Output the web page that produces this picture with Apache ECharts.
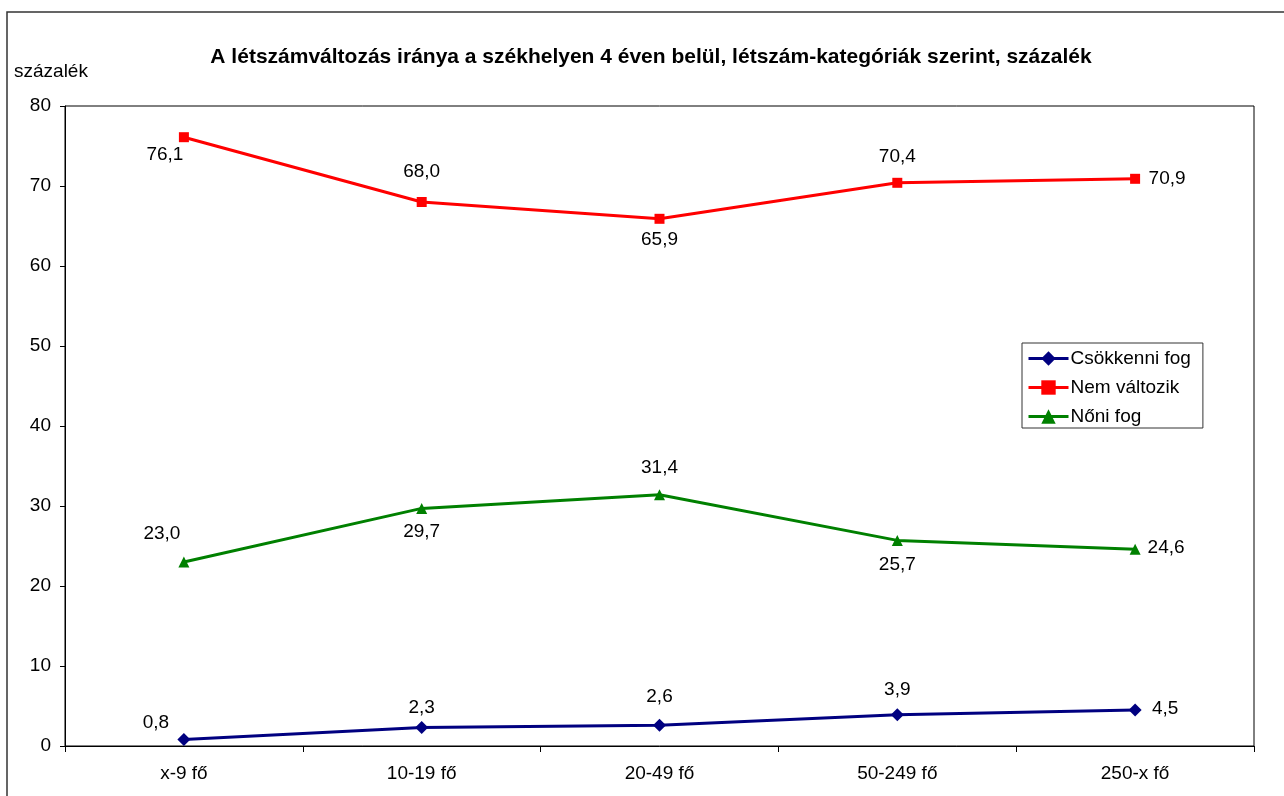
<!DOCTYPE html>
<html>
<head>
<meta charset="utf-8">
<script src="https://cdn.jsdelivr.net/npm/echarts@6/dist/echarts.min.js"></script>
<style>
  html, body { margin: 0; padding: 0; background: #fff; }
  #chart { width: 1284px; height: 796px; }
</style>
</head>
<body>
<div id="chart"></div>
<script>
const categories = ['x-9 fő', '10-19 fő', '20-49 fő', '50-249 fő', '250-x fő']
const csokkenni = [0.8, 2.3, 2.6, 3.9, 4.5]
const nemValtozik = [76.1, 68.0, 65.9, 70.4, 70.9]
const noni = [23.0, 29.7, 31.4, 25.7, 24.6]

// label shifts from the point, as in the original chart
const blueOffsets = [[-28, -17], [0, -20], [0, -28], [0, -25], [30, -1]]
const redOffsets = [[-19, 18], [0, -30], [0, 21], [0, -26], [32, 0]]
const greenOffsets = [[-22, -28], [0, 23], [0, -27], [0, 24], [31, -1]]

const font = 'Liberation Sans, Arial, sans-serif'

const makeData = (vals, offsets) => vals.map((v, i) => ({
  value: v,
  label: { show: true, position: 'inside', offset: offsets[i] }
}))

const fmt = p => p.value.toFixed(1).replace('.', ',')

const chart = echarts.init(document.getElementById('chart'))

const baseSeries = {
  type: 'line',
  smooth: false,
  lineStyle: { width: 3 },
  label: { color: '#000', fontSize: 19, fontFamily: font, formatter: fmt },
  emphasis: { disabled: true },
  z: 3
}

chart.setOption({
  animation: false,
  textStyle: { fontFamily: font },
  title: {
    text: 'A létszámváltozás iránya a székhelyen 4 éven belül, létszám-kategóriák szerint, százalék',
    left: 646,
    textAlign: 'center',
    top: 42,
    textStyle: { fontSize: 21, fontWeight: 'bold', color: '#000', fontFamily: font }
  },
  graphic: [
    {
      type: 'rect',
      shape: { x: 7, y: 12, width: 1300, height: 800 },
      style: { fill: 'none', stroke: '#333', lineWidth: 1.5 }
    },
    {
      type: 'text',
      left: 14,
      top: 62,
      style: { text: 'százalék', fontSize: 19, fontFamily: font, fill: '#000' }
    }
  ],
  legend: {
    orient: 'vertical',
    left: 1022,
    top: 343,
    padding: [6, 12, 2, 5],
    itemGap: 10,
    itemWidth: 40,
    itemHeight: 18,
    backgroundColor: '#fff',
    borderColor: '#333',
    borderWidth: 1,
    borderRadius: 0,
    lineStyle: { width: 3 },
    textStyle: { fontSize: 19, lineHeight: 19, color: '#000', fontFamily: font, padding: [0, 0, 0, -3] },
    data: ['Csökkenni fog', 'Nem változik', 'Nőni fog']
  },
  grid: {
    left: 65,
    top: 106,
    right: 30,
    bottom: 50,
    show: true,
    borderColor: '#000',
    borderWidth: 1,
    containLabel: false
  },
  xAxis: {
    type: 'category',
    data: categories,
    boundaryGap: true,
    axisLine: { lineStyle: { color: '#000', width: 1 } },
    axisTick: { show: true, length: 6, lineStyle: { color: '#000' } },
    axisLabel: { color: '#000', fontSize: 19, fontFamily: font, margin: 18 },
    splitLine: { show: false }
  },
  yAxis: {
    type: 'value',
    min: 0,
    max: 80,
    interval: 10,
    axisLine: { show: true, lineStyle: { color: '#000', width: 1 } },
    axisTick: { show: true, length: 5, lineStyle: { color: '#000' } },
    axisLabel: { color: '#000', fontSize: 19, fontFamily: font, margin: 14 },
    splitLine: { show: false }
  },
  series: [
    Object.assign({}, baseSeries, {
      name: 'Csökkenni fog',
      data: makeData(csokkenni, blueOffsets),
      color: '#000080',
      symbol: 'diamond',
      symbolSize: 13
    }),
    Object.assign({}, baseSeries, {
      name: 'Nem változik',
      data: makeData(nemValtozik, redOffsets),
      color: '#ff0000',
      symbol: 'rect',
      symbolSize: 10
    }),
    Object.assign({}, baseSeries, {
      name: 'Nőni fog',
      data: makeData(noni, greenOffsets),
      color: '#008000',
      symbol: 'triangle',
      symbolSize: 11
    })
  ]
})
</script>
</body>
</html>
